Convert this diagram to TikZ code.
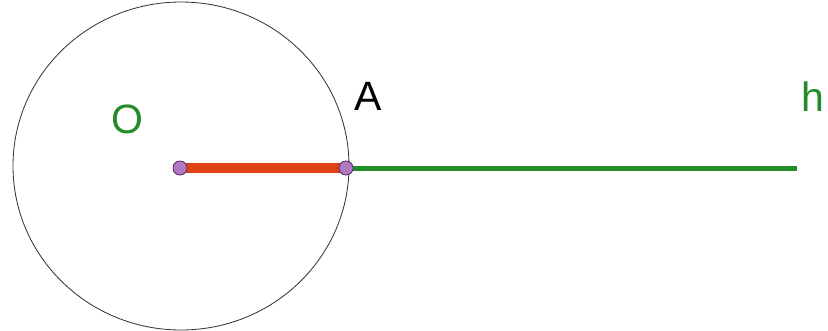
\documentclass[tikz,border=0pt]{standalone}
\usepackage{fontspec}
\setmainfont{Liberation Sans}
\definecolor{rayGreen}{RGB}{34,140,40}
\definecolor{segRed}{RGB}{222,66,20}
\definecolor{ptPurple}{RGB}{178,120,196}
\definecolor{ptEdge}{RGB}{70,30,90}
\usepackage{tikz}
\usetikzlibrary{positioning}

\begin{document}
\begin{tikzpicture}[x=0.3mm, y=-0.3mm, every node/.style={font=\fontsize{35}{40}\selectfont},
  pt/.style={circle, draw=ptEdge, fill=ptPurple, line width=0.5pt, inner sep=0pt, minimum size=4.2mm}]
  \useasboundingbox (0,0) rectangle (828,330);
  \draw[black!80, line width=0.7pt] (181,166) ellipse (168 and 164);
  \coordinate (hend) at (797,168);
  \node[pt] (O) at (180,168) {};
  \node[pt] (A) at (346,168) {};
  \draw[rayGreen, line width=1.5mm] (A.center) -- (hend);
  \draw[segRed, line width=2.9mm] (O.center) -- (A.center);
  % redraw the points on top
  \node[pt] at (O) {};
  \node[pt] at (A) {};
  \node[text=rayGreen] (olabel) at (127,119) {O};
  \node (alabel) at (368,96) {A};
  \node[text=rayGreen] (hlabel) at (813,97) {h};
\end{tikzpicture}
\end{document}
